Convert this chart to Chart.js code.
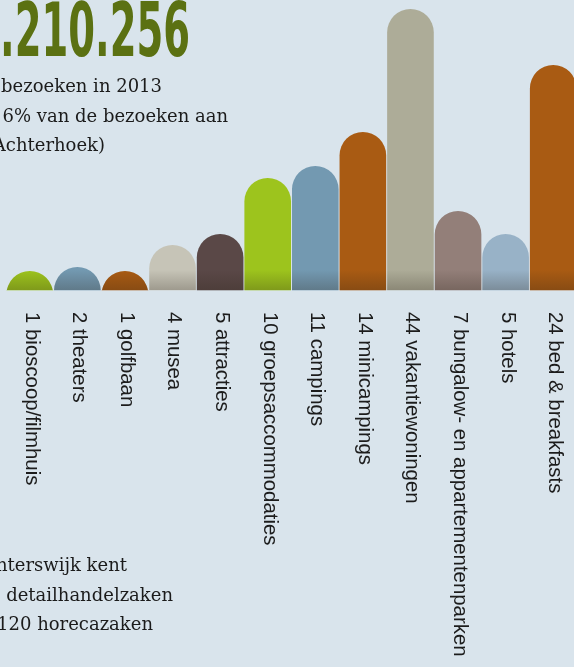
<!DOCTYPE html>
<html>
<head>
<meta charset="utf-8">
<script src="https://cdn.jsdelivr.net/npm/chart.js@4.4.0/dist/chart.umd.min.js"></script>
<style>
  html, body { margin: 0; padding: 0; background: #d9e4ec; overflow: hidden; width: 574px; height: 667px; }
  #wrap { position: absolute; left: 0; top: 0; width: 578px; height: 667px; }
</style>
</head>
<body>
<div id="wrap"><canvas id="out" width="578" height="667"></canvas></div>
<script>
const categories = [
  "1 bioscoop/filmhuis",
  "2 theaters",
  "1 golfbaan",
  "4 musea",
  "5 attracties",
  "10 groepsaccommodaties",
  "11 campings",
  "14 minicampings",
  "44 vakantiewoningen",
  "7 bungalow- en appartementenparken",
  "5 hotels",
  "24 bed & breakfasts"
];
const barHeights = [19, 23, 19, 45, 56, 112, 124, 158, 281, 79, 56, 225];
const barColors = [
  "#9dc41d", "#7399b1", "#a95b13", "#c6c4b7", "#5a4847", "#9dc41d",
  "#7399b1", "#a95b13", "#adac98", "#937f79", "#98b2c7", "#a95b13"
];
const headline = "1.210.256";
const introLines = ["bezoeken in 2013", "6% van de bezoeken aan", "Achterhoek)"];
const footerLines = ["Winterswijk kent", "5 detailhandelzaken", "120 horecazaken"];

// bars with a full round cap, cut off at the baseline
const roundTops = {
  id: "roundTops",
  afterDatasetsDraw(chart) {
    const ctx = chart.ctx;
    const area = chart.chartArea;
    chart.getDatasetMeta(0).data.forEach((bar, i) => {
      const r = bar.width / 2;
      const left = bar.x - r;
      const base = bar.base;
      ctx.save();
      ctx.beginPath();
      ctx.rect(left - 1, area.top - 50, bar.width + 2, base - area.top + 50);
      ctx.clip();
      ctx.beginPath();
      ctx.moveTo(left, base);
      ctx.lineTo(left, bar.y + r);
      ctx.arc(bar.x, bar.y + r, r, Math.PI, 0);
      ctx.lineTo(left + bar.width, base);
      ctx.closePath();
      ctx.fillStyle = barColors[i];
      ctx.fill();
      const shade = ctx.createLinearGradient(0, base - 20, 0, base);
      shade.addColorStop(0, "rgba(40,30,20,0)");
      shade.addColorStop(1, "rgba(40,30,20,0.25)");
      ctx.fillStyle = shade;
      ctx.fill();
      ctx.restore();
      // faint reflection under the baseline
      ctx.save();
      ctx.globalAlpha = 0.3;
      ctx.fillStyle = barColors[i];
      ctx.fillRect(left, base, bar.width, 1);
      ctx.restore();
    });
  },
  afterDraw(chart) {
    const ctx = chart.ctx;
    const xScale = chart.scales.x;

    // rotated category labels, reading downwards
    ctx.save();
    ctx.font = "20.4px 'Liberation Sans', Arial, sans-serif";
    ctx.fillStyle = "#1c1c1c";
    categories.forEach((label, i) => {
      const x = xScale.getPixelForValue(i);
      ctx.save();
      ctx.translate(x + 1.5, 312);
      ctx.rotate(Math.PI / 2);
      ctx.textAlign = "left";
      ctx.textBaseline = "middle";
      ctx.fillText(label, 0, 0);
      ctx.restore();
    });
    ctx.restore();

    // big number, partly cut off on the left
    ctx.save();
    ctx.font = "bold 75px 'Liberation Sans Narrow', 'DejaVu Sans Condensed', sans-serif";
    const shown = ctx.measureText(headline.slice(1)).width;
    ctx.translate(190, 56);
    ctx.scale(190 / shown, 1);
    ctx.textAlign = "right";
    ctx.textBaseline = "alphabetic";
    ctx.fillStyle = "#5b7112";
    ctx.fillText(headline, 0, 0);
    ctx.restore();

    // text blocks, right edges as in the picture
    ctx.save();
    ctx.font = "18px 'DejaVu Serif', serif";
    ctx.fillStyle = "#1b1b1b";
    ctx.textAlign = "right";
    const introRight = [162, 228, 105];
    introLines.forEach((t, i) => ctx.fillText(t, introRight[i], 92 + i * 29.5));
    const footRight = [127, 173, 153];
    footerLines.forEach((t, i) => ctx.fillText(t, footRight[i], 571 + i * 29.5));
    ctx.restore();
  }
};

const chart = new Chart(document.getElementById("out").getContext("2d"), {
  type: "bar",
  data: {
    labels: categories,
    datasets: [{
      data: barHeights,
      backgroundColor: "rgba(0,0,0,0)",
      borderWidth: 0,
      categoryPercentage: 1,
      barPercentage: 0.98
    }]
  },
  options: {
    responsive: false,
    animation: false,
    devicePixelRatio: 1,
    layout: { padding: { left: 6, right: 1, top: 0, bottom: 377 } },
    scales: {
      x: { display: false },
      y: { display: false, min: 0, max: 290 }
    },
    plugins: { legend: { display: false }, tooltip: { enabled: false } }
  },
  plugins: [roundTops]
});
</script>
</body>
</html>
